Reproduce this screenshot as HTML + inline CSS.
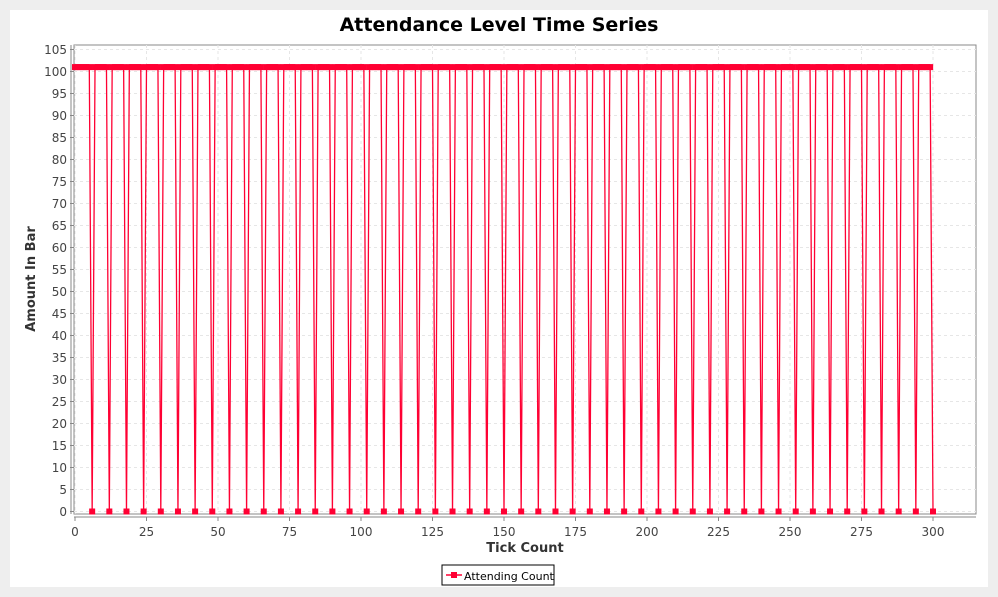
<!DOCTYPE html>
<html><head><meta charset="utf-8"><style>
body{margin:0;background:#eeeeee;font-family:"DejaVu Sans","Liberation Sans",sans-serif}
svg{display:block}
</style></head><body>
<svg width="998" height="597" font-family="DejaVu Sans, Liberation Sans, sans-serif">
<rect x="10" y="10" width="978" height="577" fill="#ffffff"/>
<text x="499" y="31" text-anchor="middle" font-size="19" font-weight="bold" fill="#000">Attendance Level Time Series</text>
<g id="grid"></g>
<g id="axes"></g>
<g id="series"></g>
<text x="525" y="552" text-anchor="middle" font-size="13" font-weight="bold" fill="#333">Tick Count</text>
<text transform="translate(35,279) rotate(-90)" text-anchor="middle" font-size="13" font-weight="bold" fill="#333">Amount In Bar</text>
<g>
<rect x="442" y="565" width="112" height="20" fill="#fff" stroke="#000" stroke-width="1"/>
<line x1="446" y1="575" x2="462" y2="575" stroke="#ff0033" stroke-width="1.5"/>
<rect x="451" y="572" width="6" height="6" fill="#ff0033"/>
<text x="464" y="580" font-size="11" fill="#000">Attending Count</text>
</g>
</svg>
<script>
const ticks = Array.from({length:301},(_,i)=>i);
const values = [];
for (let i=0;i<=300;i++) values.push((i>0 && i%6===0)?0:101);
const xTicks=[0,25,50,75,100,125,150,175,200,225,250,275,300];
const yTicks=[0,5,10,15,20,25,30,35,40,45,50,55,60,65,70,75,80,85,90,95,100,105];
const ns="http://www.w3.org/2000/svg";
const X0=75,X1=933,Y0=511.5,PT=45,PB=514,PL=74,PR=976;
const x=v=>X0+(v-0)*(X1-X0)/300;
const y=v=>Y0-v*4.4;
function mk(t,a,p){const e=document.createElementNS(ns,t);for(const k in a)e.setAttribute(k,a[k]);p.appendChild(e);return e;}
const grid=document.getElementById('grid'),axes=document.getElementById('axes'),ser=document.getElementById('series');
mk('rect',{x:PL,y:PT,width:PR-PL,height:PB-PT,fill:'#fff',stroke:'#888','stroke-width':1},grid);
yTicks.forEach(t=>{
 const l=mk('line',{x1:PL,x2:PR,y1:y(t),y2:y(t),stroke:'#e6e6e6','stroke-dasharray':'3,3'},grid);
 
 
 mk('line',{x1:PL-4,x2:PL,y1:y(t),y2:y(t),stroke:'#888'},axes);
 const tx=mk('text',{x:PL-7,y:y(t)+4.5,'text-anchor':'end','font-size':12,fill:'#444'},axes);
 tx.textContent=t;
 
 
});
xTicks.forEach(t=>{
 const l=mk('line',{x1:x(t),x2:x(t),y1:PT,y2:PB,stroke:'#e6e6e6','stroke-dasharray':'3,3'},grid);
 
 
 mk('line',{x1:x(t),x2:x(t),y1:PB+3,y2:PB+7,stroke:'#888'},axes);
 const tx=mk('text',{x:x(t),y:PB+22,'text-anchor':'middle','font-size':12,fill:'#444'},axes);
 tx.textContent=t;
 
 
});
mk('line',{x1:PL,x2:PR,y1:PB+3,y2:PB+3,stroke:'#888'},axes);
mk('line',{x1:PL-3,x2:PL-3,y1:PT,y2:PB,stroke:'#888'},axes);
const pts=ticks.map((t,i)=>x(t).toFixed(2)+','+y(values[i]).toFixed(2)).join(' ');
const line=mk('polyline',{points:pts,fill:'none',stroke:'#ff0033','stroke-width':1.3},ser);


ticks.forEach((t,i)=>{
 const r=mk('rect',{x:x(t)-3,y:y(values[i])-3,width:6,height:6,fill:'#ff0033'},ser);
 
 
});
</script>
</body></html>
